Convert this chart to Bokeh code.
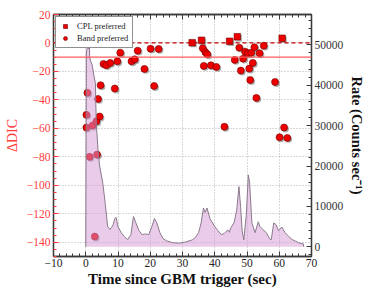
from bokeh.plotting import figure
from bokeh.models import (Range1d, LinearAxis, FixedTicker, Span, Legend, LegendItem,
                          ColumnDataSource, CustomJSTickFormatter)
from bokeh.transform import dodge
from bokeh.embed import file_html
from bokeh.resources import INLINE

# ---- data ----
band_t = [0.5, 0.2, 0.2, 2.1, 3.3, 4.3, 3.8, 4.6, 5.5, 6.4, 7.6, 9.0, 9.8, 10.7,
          14.2, 15.2, 16.1, 18.2, 20.1, 21.2, 22.6, 1.2, 3.5, 2.8,
          36.3, 37.1, 37.7, 36.6, 38.8, 40.5, 43.0, 47.6, 46.2, 48.8, 48.1, 49.4,
          50.3, 51.3, 52.3, 50.7, 51.8, 51.0, 52.9, 53.9, 55.2, 58.7, 60.1, 61.5, 62.5]
band_dic = [-35.0, -50.5, -59.4, -58.0, -55.0, -51.7, -39.3, -29.7, -14.7, -15.6, -14.0,
            -32.0, -12.9, -6.8, -12.9, -11.5, -5.4, -18.2, -4.0, -30.2, -4.2, -80.0, -78.4,
            -136.0,
            -3.7, -6.5, -7.9, -16.1, -15.7, -16.8, -58.9, -3.3, -11.9, -11.0, -19.4, -6.1,
            -7.2, -6.8, -3.0, -18.0, -14.0, -26.0, -38.6, -7.2, -1.9, -27.4, -66.2, -59.4, -66.7]
cpl_t = [33.0, 35.9, 44.6, 47.0, 60.9]
cpl_dic = [0.2, 1.9, 1.2, 4.4, 3.3]

lc_t = [0.0, 0.2, 0.6, 0.9, 1.0, 1.1, 1.2, 1.5, 2.0, 2.5, 3.0, 3.1, 3.3, 3.6, 3.8, 4.3,
        5.3, 6.0, 6.8, 7.5, 8.0, 8.5, 9.0, 9.4, 10.0, 11.0, 12.0, 13.0, 14.0, 14.8,
        15.5, 16.5, 17.5, 18.5, 19.5, 20.5, 21.3, 22.0, 23.0, 24.0, 25.0, 27.0, 29.0,
        31.0, 33.0, 34.0, 35.0, 35.8, 36.5, 37.0, 37.6, 38.5, 40.0, 41.0, 42.0, 43.0,
        44.0, 44.5, 45.0, 46.0, 46.8, 47.5, 48.0, 48.5, 49.0, 49.8, 50.4, 50.8, 51.5,
        52.5, 53.5, 54.0, 55.0, 56.0, 57.0, 57.5, 58.3, 59.0, 59.8, 60.8, 61.8, 63.0,
        64.0, 65.0, 66.0, 67.5, 67.6]
lc_rate = [0, 48000, 50000, 49000, 51000, 52500, 47000, 46000, 45000, 42500, 40500,
           36000, 30000, 26500, 24000, 20000, 15700, 11000, 5000, 4300, 4800, 5500, 7000,
           7300, 5000, 3500, 2500, 1800, 3000, 7500, 6000, 4000, 3000, 3200, 3000, 5000,
           7000, 6000, 3500, 2000, 1500, 1000, 900, 1200, 1700, 2300, 3500, 6000, 9600,
           8500, 9600, 7000, 5000, 4000, 3000, 3300, 4200, 3600, 4700, 6000, 9000, 14900,
           10000, 4000, 1700, 8000, 17800, 16000, 6000, 3500, 6200, 5000, 4200, 3500,
           2000, 1700, 5900, 5500, 4000, 4900, 3500, 2500, 1800, 1400, 1000, 700, 0]

x_ticks = [-10, 0, 10, 20, 30, 40, 50, 60, 70]
x_labels = ["\u221210", "0", "10", "20", "30", "40", "50", "60", "70"]
dic_ticks = [20, 0, -20, -40, -60, -80, -100, -120, -140]
dic_labels = ["20", "0", "\u221220", "\u221240", "\u221260", "\u221280",
              "\u2212100", "\u2212120", "\u2212140"]
rate_ticks = [0, 10000, 20000, 30000, 40000, 50000]
rate_labels = ["0", "10000", "20000", "30000", "40000", "50000"]

SERIF = "Liberation Serif"
RED = "#ff3b3b"
AXC = "#3a3a3a"

p = figure(frame_width=258, frame_height=242, output_backend="svg",
           toolbar_location=None,
           x_range=Range1d(-10, 70), y_range=Range1d(-150, 20),
           min_border_left=53, min_border_right=44, min_border_top=14,
           min_border_bottom=24)
p.extra_y_ranges = {"rate": Range1d(-2400, 57500)}
p.outline_line_color = AXC
p.outline_line_width = 1.3
p.background_fill_color = "white"

for g in (p.xgrid, p.ygrid):
    g.grid_line_color = "#b0b0b0"
    g.grid_line_dash = "1 2"
    g.grid_line_width = 1


def style_axis(ax, color, ticks, minor, labels, label_color):
    ax.ticker = FixedTicker(ticks=ticks, minor_ticks=minor)
    if labels:
        ax.major_label_overrides = {t: l for t, l in zip(ticks, labels)}
    ax.major_tick_in = 5
    ax.major_tick_out = 0
    ax.minor_tick_in = 3
    ax.minor_tick_out = 0
    ax.major_tick_line_color = color
    ax.minor_tick_line_color = color
    ax.axis_line_color = AXC
    ax.axis_line_width = 1.3
    ax.major_label_text_font = SERIF
    ax.major_label_text_font_size = "11.5px"
    ax.major_label_text_color = label_color
    ax.major_label_standoff = 3
    ax.axis_label_text_font = SERIF
    ax.axis_label_text_font_style = "bold"
    ax.axis_label_text_font_size = "15px"


xminor = list(range(-10, 71, 2))
style_axis(p.xaxis[0], AXC, x_ticks, xminor, x_labels, "#222222")
p.xaxis[0].axis_label = "Time since GBM trigger (sec)"
p.xaxis[0].axis_label_standoff = 1
p.xaxis[0].major_label_standoff = 2
p.xaxis[0].axis_label_text_color = "#111111"

yminor = list(range(-150, 21, 5))
style_axis(p.yaxis[0], RED, dic_ticks, yminor, dic_labels, RED)
p.yaxis[0].axis_label = "\u0394DIC"
p.yaxis[0].axis_label_text_font_style = "normal"
p.yaxis[0].axis_label_text_font_size = "14px"
p.yaxis[0].axis_label_text_color = RED
p.yaxis[0].axis_label_standoff = 4

top = LinearAxis(formatter=CustomJSTickFormatter(code="return ''"))
style_axis(top, AXC, x_ticks, xminor, None, "#222222")
top.major_label_standoff = 0
p.add_layout(top, "above")

right = LinearAxis(y_range_name="rate")
style_axis(right, AXC, rate_ticks, list(range(-2000, 57501, 2000)), rate_labels, "#333333")
right.axis_label = "Rate (Counts sec\u207b\u00b9)"
right.axis_label_standoff = 3
right.axis_label_text_font_size = "14.5px"
right.axis_label_text_color = "#111111"
p.add_layout(right, "right")

p.add_layout(Span(location=0, dimension="width", line_color="#c00000",
                  line_dash="4 3", line_width=1.2))
p.add_layout(Span(location=-10, dimension="width", line_color="#ff5a5a",
                  line_width=1.2))

bsrc = ColumnDataSource(dict(t=band_t, d=band_dic))
csrc = ColumnDataSource(dict(t=cpl_t, d=cpl_dic))
p.scatter(x=dodge("t", 0.4, range=p.x_range), y=dodge("d", -1.0, range=p.y_range),
          source=bsrc, marker="circle", size=7, fill_color="#777777",
          fill_alpha=0.6, line_color=None)
p.scatter(x=dodge("t", 0.4, range=p.x_range), y=dodge("d", -1.0, range=p.y_range),
          source=csrc, marker="square", size=6.5, fill_color="#777777",
          fill_alpha=0.6, line_color=None)
rc = p.scatter(x="t", y="d", source=csrc, marker="square", size=6.5,
               fill_color="#ee0000", line_color="#700000", line_width=0.6)
rb = p.scatter(x="t", y="d", source=bsrc, marker="circle", size=7,
               fill_color="#ee0000", line_color="#700000", line_width=0.6)

p.varea(x=lc_t, y1=[0] * len(lc_t), y2=lc_rate, y_range_name="rate",
        fill_color="#d69ad6", fill_alpha=0.5)
p.line(x=lc_t, y=lc_rate, y_range_name="rate", line_color="#8a7a8c", line_width=1)

legend = Legend(items=[LegendItem(label="CPL preferred", renderers=[rc]),
                       LegendItem(label="Band preferred", renderers=[rb])],
                location="top_left")
legend.label_text_font = SERIF
legend.label_text_font_size = "8.5px"
legend.label_text_color = "#222222"
legend.glyph_width = 10
legend.glyph_height = 10
legend.label_height = 10
legend.label_standoff = 7
legend.spacing = 2
legend.padding = 4
legend.margin = 2
legend.border_line_color = "#222222"
legend.border_line_width = 1
legend.background_fill_alpha = 1
p.add_layout(legend)

open("out.html", "w").write(file_html(p, INLINE))
